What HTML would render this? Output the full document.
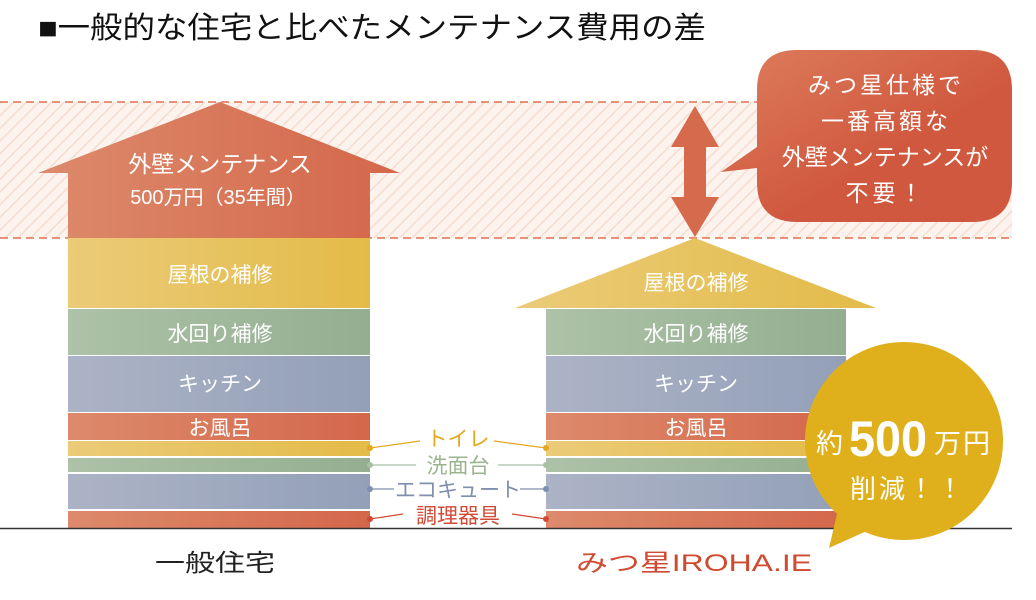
<!DOCTYPE html>
<html><head><meta charset="utf-8"><style>
html,body{margin:0;padding:0;background:#fff;}
svg{display:block;}
text{font-family:"Liberation Sans","Noto Sans CJK JP",sans-serif;}
</style></head><body>
<svg width="1036" height="600" viewBox="0 0 1036 600" xmlns="http://www.w3.org/2000/svg">
<defs>
<pattern id="hatch" width="9" height="9" patternUnits="userSpaceOnUse" patternTransform="rotate(45)">
<rect width="9" height="9" fill="#fcf3ef"/>
<rect width="1.6" height="9" fill="#f6ddd0"/>
</pattern>
<linearGradient id="gr" x1="0" x2="1"><stop offset="0" stop-color="#dd8a6c"/><stop offset="1" stop-color="#d4674a"/></linearGradient>
<linearGradient id="gy" x1="0" x2="1"><stop offset="0" stop-color="#ebcb78"/><stop offset="1" stop-color="#e3bb48"/></linearGradient>
<linearGradient id="gg" x1="0" x2="1"><stop offset="0" stop-color="#adc2a8"/><stop offset="1" stop-color="#94ae90"/></linearGradient>
<linearGradient id="gb" x1="0" x2="1"><stop offset="0" stop-color="#acb3c6"/><stop offset="1" stop-color="#93a0b8"/></linearGradient>
<linearGradient id="gbub" x1="0" y1="0" x2="1" y2="1"><stop offset="0" stop-color="#dd7d5c"/><stop offset="0.6" stop-color="#d0583e"/></linearGradient>
</defs>

<text x="38" y="38" font-size="30" fill="#111" textLength="668" lengthAdjust="spacingAndGlyphs">■一般的な住宅と比べたメンテナンス費用の差</text>

<rect x="0" y="102" width="1012" height="136" fill="url(#hatch)"/>
<line x1="0" y1="102" x2="1012" y2="102" stroke="#e07050" stroke-width="1.5" stroke-dasharray="8,5"/>
<line x1="0" y1="238" x2="1012" y2="238" stroke="#e07050" stroke-width="1.5" stroke-dasharray="8,5"/>

<polygon points="220,102 400,173 370,173 370,238 68,238 68,173 38,173" fill="url(#gr)"/>
<text x="220" y="172" font-size="23" fill="#fff" text-anchor="middle">外壁メンテナンス</text>
<text x="218" y="204" font-size="20" fill="#fff" text-anchor="middle">500万円（35年間）</text>
<rect x="68" y="238" width="302" height="70" fill="url(#gy)"/>
<rect x="68" y="309" width="302" height="46" fill="url(#gg)"/>
<rect x="68" y="356" width="302" height="56" fill="url(#gb)"/>
<rect x="68" y="413" width="302" height="27" fill="url(#gr)"/>
<rect x="68" y="441" width="302" height="15" fill="url(#gy)"/>
<rect x="68" y="458" width="302" height="14" fill="url(#gg)"/>
<rect x="68" y="474" width="302" height="35" fill="url(#gb)"/>
<rect x="68" y="511" width="302" height="17" fill="url(#gr)"/>
<text x="220" y="282" font-size="21" fill="#fff" text-anchor="middle">屋根の補修</text>
<text x="220" y="341" font-size="21" fill="#fff" text-anchor="middle">水回り補修</text>
<text x="220" y="391" font-size="21" fill="#fff" text-anchor="middle">キッチン</text>
<text x="220" y="435" font-size="21" fill="#fff" text-anchor="middle">お風呂</text>

<polygon points="695,238 876,308 515,308" fill="url(#gy)"/>
<text x="696" y="290" font-size="21" fill="#fff" text-anchor="middle">屋根の補修</text>
<rect x="546" y="309" width="300" height="46" fill="url(#gg)"/>
<rect x="546" y="356" width="300" height="56" fill="url(#gb)"/>
<rect x="546" y="413" width="300" height="27" fill="url(#gr)"/>
<rect x="546" y="441" width="300" height="15" fill="url(#gy)"/>
<rect x="546" y="458" width="300" height="14" fill="url(#gg)"/>
<rect x="546" y="474" width="300" height="35" fill="url(#gb)"/>
<rect x="546" y="511" width="300" height="17" fill="url(#gr)"/>
<text x="696" y="341" font-size="21" fill="#fff" text-anchor="middle">水回り補修</text>
<text x="696" y="391" font-size="21" fill="#fff" text-anchor="middle">キッチン</text>
<text x="696" y="435" font-size="21" fill="#fff" text-anchor="middle">お風呂</text>

<line x1="0" y1="528.5" x2="1012" y2="528.5" stroke="#333" stroke-width="1.5"/>

<g stroke-width="1.2">
<line x1="370" y1="448" x2="420" y2="441" stroke="#e3a820"/><line x1="494" y1="441" x2="546" y2="448" stroke="#e3a820"/>
<line x1="370" y1="465" x2="416" y2="465" stroke="#a9c0a4"/><line x1="498" y1="465" x2="546" y2="465" stroke="#a9c0a4"/>
<line x1="370" y1="489" x2="394" y2="489" stroke="#7f8fae"/><line x1="520" y1="489" x2="546" y2="489" stroke="#7f8fae"/>
<line x1="370" y1="519" x2="403" y2="514" stroke="#d04a35"/><line x1="512" y1="514" x2="546" y2="519" stroke="#d04a35"/>
</g>
<circle cx="370" cy="448" r="3" fill="#e3a820"/><circle cx="546" cy="448" r="3" fill="#e3a820"/>
<circle cx="370" cy="465" r="3" fill="#a9c0a4"/><circle cx="546" cy="465" r="3" fill="#a9c0a4"/>
<circle cx="370" cy="489" r="3" fill="#7f8fae"/><circle cx="546" cy="489" r="3" fill="#7f8fae"/>
<circle cx="370" cy="519" r="3" fill="#d04a35"/><circle cx="546" cy="519" r="3" fill="#d04a35"/>
<text x="458" y="446" font-size="21" fill="#e3a820" text-anchor="middle">トイレ</text>
<text x="458" y="473" font-size="21" fill="#9ab48f" text-anchor="middle">洗面台</text>
<text x="458" y="497" font-size="21" fill="#7f8fae" text-anchor="middle">エコキュート</text>
<text x="458" y="523" font-size="21" fill="#d04a35" text-anchor="middle">調理器具</text>

<polygon points="695,106 719,147 706,147 706,197 719,197 695,237 671,197 684,197 684,147 671,147" fill="#d56a4c"/>

<path d="M797,50 H972 Q1012,50 1012,90 V182 Q1012,222 972,222 H797 Q757,222 757,182 V168 L721,172 L757,147 V90 Q757,50 797,50 Z" fill="url(#gbub)"/>
<text x="886" y="93" font-size="23" fill="#fff" text-anchor="middle" letter-spacing="3">みつ星仕様で</text>
<text x="886" y="129" font-size="23" fill="#fff" text-anchor="middle" letter-spacing="3">一番高額な</text>
<text x="885" y="165" font-size="23" fill="#fff" text-anchor="middle">外壁メンテナンスが</text>
<text x="886" y="201" font-size="23" fill="#fff" text-anchor="middle" letter-spacing="4">不要！</text>

<circle cx="904" cy="441" r="99" fill="#e0b01c"/>
<polygon points="838,510 829,548 880,525" fill="#e0b01c"/>
<text x="816" y="453" font-size="27" fill="#fff">約</text>
<text x="849" y="456" font-size="50" font-weight="bold" fill="#fff" textLength="78" lengthAdjust="spacingAndGlyphs">500</text>
<text x="934" y="453" font-size="27" fill="#fff" letter-spacing="2">万円</text>
<text x="908" y="498" font-size="26" fill="#fff" text-anchor="middle" letter-spacing="3">削減！！</text>

<text x="155" y="571" font-size="24" fill="#222" textLength="120" lengthAdjust="spacingAndGlyphs">一般住宅</text>
<text x="576" y="571" font-size="24" fill="#cf4a30" textLength="236" lengthAdjust="spacingAndGlyphs">みつ星IROHA.IE</text>
</svg>
</body></html>
